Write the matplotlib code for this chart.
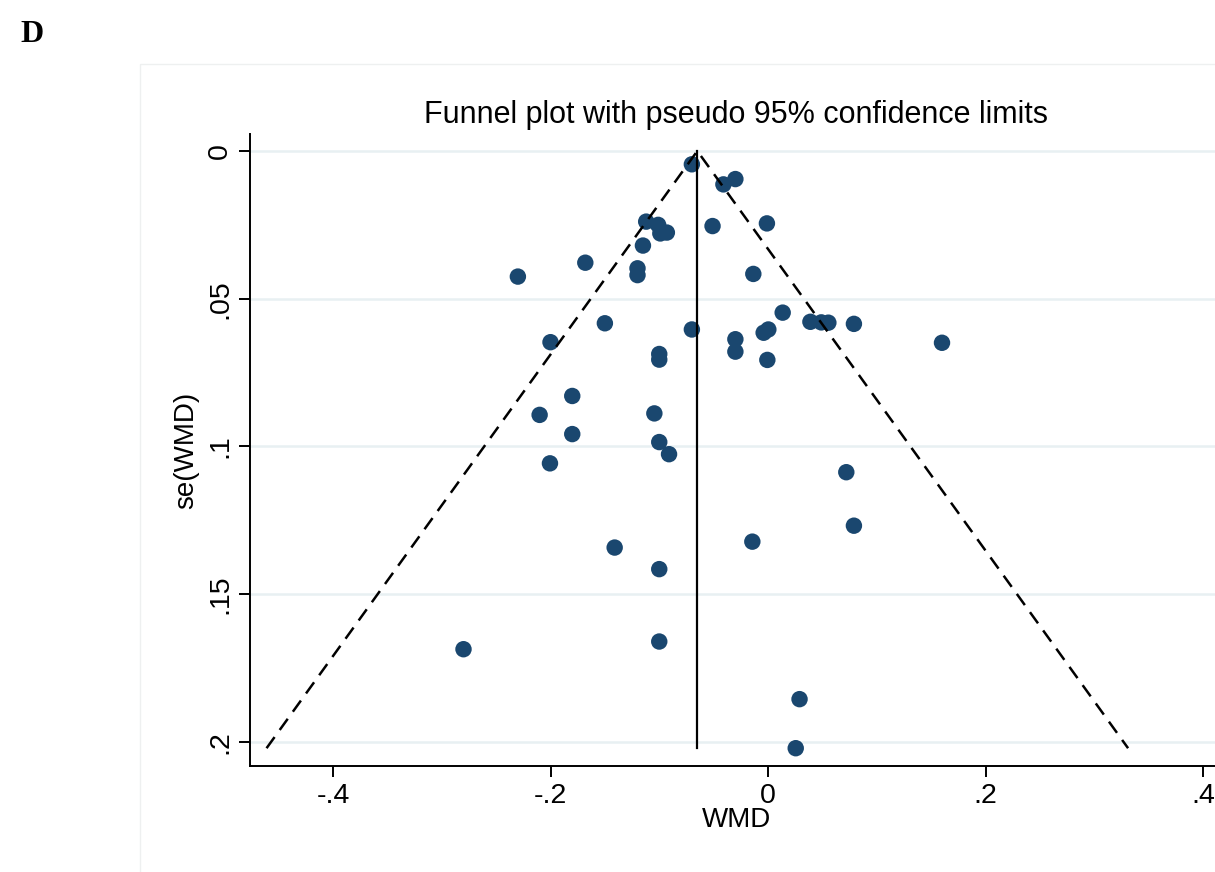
import matplotlib
matplotlib.use("Agg")
import matplotlib.pyplot as plt
from matplotlib.patches import Rectangle
import numpy as np

# ---- data ----
wmd = [-0.070, -0.041, -0.030, -0.112, -0.101, -0.099, -0.093, -0.115, -0.051, -0.001,
       -0.168, -0.120, -0.120, -0.0135, -0.230, 0.0135, 0.039, 0.049, 0.0555, 0.079,
       0.160, -0.150, -0.070, -0.030, -0.030, -0.004, 0.0003, -0.0006, -0.100, -0.100,
       -0.200, -0.180, -0.210, -0.180, -0.2005, -0.1045, -0.100, -0.091, 0.072, 0.079,
       -0.0144, -0.141, -0.100, -0.100, -0.280, 0.029, 0.0255]
se_wmd = [0.0045, 0.0113, 0.0095, 0.0239, 0.0250, 0.0279, 0.0276, 0.0320, 0.0254, 0.0245,
          0.0378, 0.0397, 0.0420, 0.0416, 0.0425, 0.0547, 0.0578, 0.0580, 0.0581, 0.0585,
          0.0649, 0.0583, 0.0604, 0.0637, 0.0679, 0.0615, 0.0604, 0.0707, 0.0687, 0.0706,
          0.0647, 0.0829, 0.0893, 0.0958, 0.1057, 0.0888, 0.0985, 0.1026, 0.1087, 0.1268,
          0.1322, 0.1342, 0.1415, 0.1660, 0.1686, 0.1855, 0.2021]
pooled = -0.065
z95 = 1.96
x_ticks = [-0.4, -0.2, 0.0, 0.2, 0.4]
x_ticklabels = ["-.4", "-.2", "0", ".2", ".4"]
y_ticks = [0.0, 0.05, 0.10, 0.15, 0.20]
y_ticklabels = ["0", ".05", ".1", ".15", ".2"]

W, H = 1215, 872
fig = plt.figure(figsize=(W / 100, H / 100), dpi=100)
plt.rcParams['font.family'] = ['Liberation Sans', 'DejaVu Sans']

# outer graph-region frame
fig.patches.append(Rectangle((140 / W, 1 - 1100 / H), 1200 / W, (1100 - 64) / H,
                             transform=fig.transFigure, fill=False,
                             edgecolor='#eef0f0', lw=1.0, zorder=0))

ax_l, ax_r, ax_t, ax_b = 250, 1222, 134, 766
ax = fig.add_axes([ax_l / W, 1 - ax_b / H, (ax_r - ax_l) / W, (ax_b - ax_t) / H])
ax.set_facecolor('none')

px_per_x = 1087.5
x0px = 768
ax.set_xlim((ax_l - x0px) / px_per_x, (ax_r - x0px) / px_per_x)
px_per_y = 2955
y0px = 151
ax.set_ylim((ax_b - y0px) / px_per_y, (ax_t - y0px) / px_per_y)

for s in ['top', 'right']:
    ax.spines[s].set_visible(False)
for s in ['left', 'bottom']:
    ax.spines[s].set_linewidth(1.4)
    ax.spines[s].set_color('black')

ax.set_xticks(x_ticks)
ax.set_xticklabels(x_ticklabels)
ax.set_yticks(y_ticks)
ax.set_yticklabels(y_ticklabels, rotation=90, va='center')
ax.tick_params(axis='both', length=8, width=1.4, labelsize=20.5, color='black')
ax.tick_params(axis='x', pad=4)
ax.tick_params(axis='y', pad=4)

ax.yaxis.grid(True, color='#e8f0f2', lw=1.8)
ax.xaxis.grid(False)
ax.set_axisbelow(True)

se_max = max(se_wmd)
ax.plot([pooled, pooled], [0, se_max], color='black', lw=1.6, zorder=3)
ax.plot([pooled - z95 * se_max, pooled, pooled + z95 * se_max], [se_max, 0, se_max],
        color='black', lw=1.8, ls=(0, (5.5, 3.5)), zorder=3)
ax.scatter(wmd, se_wmd, s=140, color='#1a476f', edgecolors='none', zorder=2)

ax.set_title("Funnel plot with pseudo 95% confidence limits", fontsize=22, pad=8)
ax.set_xlabel("WMD", fontsize=20, labelpad=-1)
ax.set_ylabel("se(WMD)", fontsize=20, labelpad=6)

fig.text(20 / W, 1 - 42 / H, "D", fontsize=23, fontweight='bold',
         family='Liberation Serif', ha='left', va='baseline')

fig.savefig("out.png", dpi=100)
